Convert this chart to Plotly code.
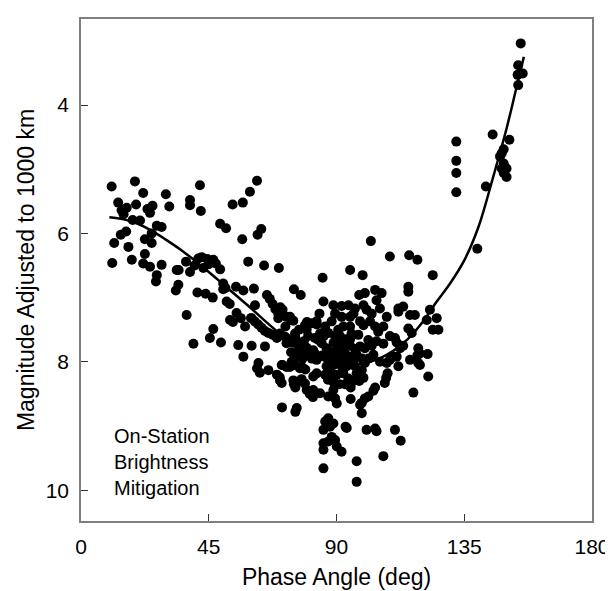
import plotly.graph_objects as go

# ---- scatter data: phase angle (deg) and magnitude adjusted to 1000 km ----
phase_angle = [
    # low phase angles
    10.8, 19.0, 21.9, 29.9, 13.1, 14.3, 16.1, 19.4, 25.2, 24.3, 31.1, 18.2, 20.8, 26.7, 28.4,
    15.9, 14.0, 11.7, 16.7, 22.5, 24.9, 24.9, 11.0, 17.9, 22.5, 21.9, 24.3, 28.4, 26.7, 26.4,
    15.0, 23.4,
    # 33-60 deg
    41.9, 38.4, 38.4, 42.2, 49.0, 51.1, 53.4, 57.0, 59.5, 56.8, 58.9, 37.0, 41.3, 33.7, 34.4,
    38.4, 43.1, 46.6, 49.0, 42.5, 44.5, 45.0, 47.5, 40.0, 34.3, 33.4, 41.0, 43.9, 46.4, 50.1,
    50.9, 50.1, 51.3, 52.4, 54.6, 57.2, 54.8, 37.2, 59.9,
    # 55-85 deg
    62.0, 63.5, 62.2, 64.5, 69.7, 60.9, 65.5, 66.5, 67.5, 68.5, 69.5, 75.0, 77.4,
    56.3, 52.5, 53.5, 61.3,
    60.0, 61.2, 62.4, 63.6, 64.8, 66.0, 67.6, 69.0,
    69.5, 71.0, 70.2, 73.6, 74.8, 57.8, 46.6, 45.4, 39.6, 49.3, 55.4, 60.1, 64.8, 57.2,
    62.5, 62.0, 63.0, 66.0, 69.0, 70.0, 71.0, 73.6, 70.7, 75.0, 75.5, 79.5, 80.6, 81.7,
    78.0, 79.0,
    73.0, 74.5, 75.5, 76.5, 77.5, 78.5, 79.5, 80.5, 81.5, 82.5, 74.0, 76.0, 78.0, 80.0,
    79.6, 81.3, 83.0, 72.0, 76.8,
    70.8, 76.0, 75.5, 70.1, 74.8, 77.7, 78.9, 81.8, 83.0,
    81.8, 84.2, 87.1, 88.9, 89.5, 90.1,
    70.1, 72.4, 74.2, 78.9, 79.5, 83.0, 84.2, 75.4, 71.9, 72.4, 70.1, 76.0,
    # core
    88.9, 91.8, 94.2, 96.5, 99.5, 100.6, 104.1, 105.3, 85.4, 84.0, 88.3, 91.8, 94.8, 95.3,
    98.3, 99.5, 101.8, 103.6, 104.7, 101.2, 100.0, 98.3, 82.4, 83.6, 84.8, 81.8, 81.3, 83.0,
    77.1, 78.3, 75.4, 77.1, 74.2, 72.4, 70.7,
    86.5, 87.7, 88.9, 90.1, 90.6, 91.8, 93.0, 93.6, 94.8, 95.9, 97.1, 96.5, 93.6, 91.8,
    88.9, 87.1, 86.5, 88.3, 90.1, 92.4, 94.2, 97.1, 98.9, 100.0, 101.2, 103.0, 105.3, 107.7,
    108.8, 111.2,
    90.6, 91.2, 90.6, 94.8, 94.8, 94.8, 92.4, 89.5, 87.1, 86.0, 97.7, 102.4, 104.1, 106.5,
    106.5, 107.7, 102.4, 96.0, 89.5,
    85.0, 86.0, 87.0, 89.0, 91.0, 93.0, 95.0, 96.0, 98.0, 99.5, 92.0, 93.5, 96.5, 99.0,
    89.0, 85.5,
    # 95-125 deg
    102.1, 108.8, 115.6, 118.5, 123.9, 94.8, 99.2, 85.1, 115.3, 115.3, 98.0, 100.0, 103.6,
    105.9, 111.8, 113.5, 115.9, 117.6, 122.9, 125.3, 121.8, 123.9, 125.9, 118.8, 118.5,
    119.4, 122.3, 117.1, 115.3, 116.5, 108.8, 110.6, 111.2, 112.4, 110.0, 113.5, 111.8,
    108.0, 107.5, 107.0, 103.6, 103.0, 101.2, 100.0, 98.9, 98.3, 98.9, 95.0, 93.2,
    111.8, 119.4, 122.1, 115.9, 118.8,
    # faint tail
    100.6, 103.6, 104.1, 110.6, 112.6, 106.5, 97.1, 97.1, 85.4,
    85.4, 86.0, 87.1, 87.7, 88.3, 87.1, 85.4, 85.4, 88.9, 89.5, 90.1, 91.8, 93.6,
    # high phase angles
    132.2, 132.2, 132.2, 132.2, 145.0, 150.9, 148.9, 148.2, 147.6, 148.9, 148.2, 149.9,
    148.9, 149.9, 142.6, 139.6, 154.9, 154.0, 153.8, 155.6, 154.0,
]

magnitude = [
    5.27, 5.19, 5.37, 5.39, 5.52, 5.64, 5.60, 5.55, 5.57, 5.68, 5.58, 5.79, 5.80, 5.88, 5.90,
    5.97, 6.02, 6.15, 6.21, 6.09, 6.00, 6.15, 6.46, 6.41, 6.32, 6.47, 6.52, 6.49, 6.65, 6.75,
    5.70, 5.62,
    5.25, 5.48, 5.56, 5.65, 5.85, 5.92, 5.55, 5.52, 5.35, 6.09, 6.44, 6.44, 6.39, 6.57, 6.57,
    6.60, 6.54, 6.41, 6.56, 6.37, 6.40, 6.48, 6.47, 6.50, 6.80, 6.89, 6.92, 6.94, 7.00, 6.78,
    6.85, 6.87, 7.06, 7.10, 6.83, 6.89, 7.24, 7.27, 7.32,
    5.18, 5.93, 6.02, 6.50, 6.54, 6.86, 6.96, 7.02, 7.10, 7.18, 7.25, 6.87, 6.96,
    7.32, 7.35, 7.38, 7.12,
    7.32, 7.37, 7.42, 7.47, 7.52, 7.55, 7.58, 7.63,
    7.32, 7.19, 7.15, 7.30, 7.36, 7.45, 7.49, 7.63, 7.72, 7.70, 7.74, 7.75, 7.76, 7.92,
    8.02, 8.10, 8.17, 8.13, 8.20, 8.24, 8.05, 8.08, 8.33, 8.35, 8.40, 8.44, 8.50, 8.55,
    8.09, 8.12,
    7.65, 7.70, 7.62, 7.75, 7.82, 7.68, 7.78, 7.85, 7.92, 7.88, 7.85, 7.92, 7.95, 7.60,
    7.38, 7.40, 7.42, 7.45, 7.50,
    8.71, 8.72, 8.78, 8.29, 8.29, 8.27, 8.34, 8.23, 8.18,
    8.44, 8.49, 8.54, 8.44, 8.57, 8.65,
    7.19, 7.30, 7.35, 7.43, 7.50, 7.37, 7.56, 7.56, 7.61, 7.71, 7.56, 8.33,
    7.12, 7.13, 7.12, 7.17, 7.12, 7.19, 7.04, 7.17, 7.06, 7.25, 7.37, 7.30, 7.45, 7.56,
    7.37, 7.43, 7.37, 7.45, 7.53, 7.66, 7.79, 7.76, 7.63, 7.66, 7.71, 7.82, 7.95, 7.97,
    7.82, 7.92, 8.05, 8.10, 8.00, 8.08, 8.05,
    7.79, 7.84, 7.92, 7.82, 7.97, 7.92, 7.87, 7.97, 7.92, 8.00, 7.89, 8.07, 8.07, 8.07,
    8.05, 7.97, 8.07, 8.18, 8.20, 8.18, 8.26, 8.18, 8.13, 8.02, 7.95, 7.89, 8.00, 8.02,
    7.97, 7.92,
    7.50, 7.60, 7.69, 7.30, 7.65, 7.75, 7.45, 7.60, 7.55, 7.45, 7.58, 7.75, 7.68, 7.72,
    7.45, 7.30, 7.25, 7.25, 7.25,
    7.90, 8.20, 8.28, 8.32, 8.35, 8.35, 8.40, 8.30, 8.30, 8.25, 7.75, 7.65, 7.80, 7.95,
    7.70, 7.60,
    6.12, 6.36, 6.34, 6.41, 6.65, 6.57, 6.65, 6.69, 6.83, 6.91, 6.96, 6.93, 6.88,
    6.93, 7.17, 7.14, 7.27, 7.27, 7.19, 7.32, 7.35, 7.50, 7.50, 7.79, 7.90,
    8.05, 8.23, 8.48, 7.48, 7.55, 7.60, 7.63, 7.70, 7.79, 7.92, 7.75, 8.07,
    8.18, 8.25, 8.33, 8.40, 8.45, 8.54, 8.57, 8.64, 8.67, 8.80, 8.58, 9.01,
    7.22, 7.87, 7.88, 7.97, 8.02,
    9.06, 9.04, 9.08, 9.06, 9.23, 9.47, 9.55, 9.87, 9.66,
    9.06, 8.93, 8.88, 9.01, 9.17, 9.24, 9.27, 9.37, 8.96, 9.22, 9.32, 9.40, 9.03,
    4.57, 4.87, 5.06, 5.36, 4.46, 4.54, 4.69, 4.75, 4.80, 4.91, 4.99, 4.99,
    5.06, 5.12, 5.27, 6.24, 3.04, 3.38, 3.53, 3.51, 3.69,
]

# ---- fitted curve ----
fit_angle = [10, 15, 20, 25, 30, 35, 40, 45, 50, 55, 60, 65, 70, 75, 80, 85, 90, 95, 100,
             105, 110, 115, 120, 125, 130, 135, 140, 145, 150, 153, 156]
fit_mag = [5.75, 5.78, 5.85, 5.96, 6.10, 6.25, 6.42, 6.60, 6.79, 6.98, 7.17, 7.37, 7.56,
           7.73, 7.87, 7.97, 8.03, 8.05, 8.02, 7.95, 7.83, 7.65, 7.40, 7.08, 6.78, 6.42,
           5.90, 5.15, 4.35, 3.80, 3.25]

x_ticks = [0, 45, 90, 135, 180]
y_ticks = [4, 6, 8, 10]
note_text = "On-Station<br>Brightness<br>Mitigation"

FONT = "Liberation Sans, Arial, sans-serif"

fig = go.Figure()
fig.add_trace(go.Scatter(x=phase_angle, y=magnitude, mode="markers",
                         marker=dict(color="black", size=10, line=dict(width=0)),
                         showlegend=False, hoverinfo="skip"))
fig.add_trace(go.Scatter(x=fit_angle, y=fit_mag, mode="lines",
                         line=dict(color="black", width=2.5, shape="spline", smoothing=1.0),
                         showlegend=False, hoverinfo="skip"))

axis_common = dict(showgrid=False, zeroline=False, showline=True, mirror=True,
                   linecolor="#7f7f7f", linewidth=1.5, ticks="inside", ticklen=7,
                   tickcolor="#333333", tickwidth=1.2, automargin=False,
                   tickfont=dict(family=FONT, size=21, color="black"))

# the page body keeps its default 8px margin, so the figure is 8px smaller
fig.update_layout(
    width=605, height=583,
    margin=dict(l=73, r=21, t=11, b=70),
    paper_bgcolor="white", plot_bgcolor="white",
    font=dict(family=FONT, color="black"),
    xaxis=dict(range=[0, 180], tickvals=x_ticks, ticktext=[str(v) for v in x_ticks],
               title=dict(text="Phase Angle (deg)", font=dict(family=FONT, size=23),
                          standoff=12),
               ticklabelstandoff=6, **axis_common),
    yaxis=dict(range=[10.48, 2.66], tickvals=y_ticks, ticktext=[str(v) for v in y_ticks],
               title=dict(text="Magnitude Adjusted to 1000 km", font=dict(family=FONT, size=23),
                          standoff=5),
               ticklabelstandoff=6, **axis_common),
    annotations=[dict(x=10.8, y=8.95, xref="x", yref="y", text=note_text, showarrow=False,
                      xanchor="left", yanchor="top", align="left",
                      font=dict(family=FONT, size=20, color="black"))],
)

fig.write_html("out.html")
